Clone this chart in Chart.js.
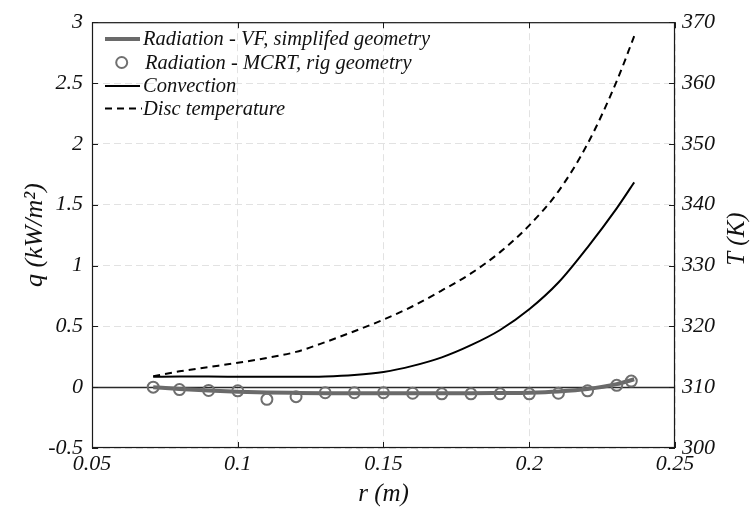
<!DOCTYPE html>
<html>
<head>
<meta charset="utf-8">
<script src="https://cdn.jsdelivr.net/npm/chart.js@4.4.1/dist/chart.umd.min.js"></script>
<style>
html,body{margin:0;padding:0;background:#fff;}
#wrap{width:750px;height:517px;}
</style>
</head>
<body>
<div id="wrap"><canvas id="c" width="750" height="517"></canvas></div>
<script>
// ---- data ----
const rLine = [0.071,0.08,0.09,0.10,0.11,0.12,0.13,0.14,0.15,0.16,0.17,0.18,0.19,0.20,0.21,0.22,0.23,0.236];
const qRadVF = [0.0,-0.015,-0.028,-0.038,-0.044,-0.047,-0.049,-0.05,-0.05,-0.05,-0.05,-0.05,-0.048,-0.045,-0.035,-0.015,0.025,0.065];
const qConv  = [0.085,0.087,0.087,0.086,0.085,0.085,0.088,0.10,0.125,0.175,0.245,0.345,0.47,0.64,0.86,1.15,1.47,1.683];
const tDisc  = [311.8,312.6,313.3,314.0,314.8,315.8,317.4,319.2,321.1,323.3,325.9,328.7,332.2,336.6,342.2,350.0,360.3,367.7];

const rMCRT = [0.071,0.08,0.09,0.10,0.11,0.12,0.13,0.14,0.15,0.16,0.17,0.18,0.19,0.20,0.21,0.22,0.23,0.235];
const qMCRT = [0.0,-0.02,-0.027,-0.03,-0.10,-0.078,-0.046,-0.046,-0.046,-0.05,-0.055,-0.055,-0.055,-0.055,-0.05,-0.03,0.015,0.05];

const xTicks  = [0.05,0.10,0.15,0.20,0.25];
const xTickLabels = ['0.05','0.1','0.15','0.2','0.25'];
const qTicks  = [-0.5,0,0.5,1,1.5,2,2.5,3];
const qTickLabels = ['-0.5','0','0.5','1','1.5','2','2.5','3'];
const tTicks  = [300,310,320,330,340,350,360,370];

const seriesNames = ['Radiation - VF, simplifed geometry','Radiation - MCRT, rig geometry','Convection','Disc temperature'];

const FONT = "'Liberation Serif', 'Times New Roman', serif";
const pts = (xs, ys) => xs.map((x, i) => ({x: x, y: ys[i]}));

const boxPlugin = {
  id: 'boxAndExtras',
  beforeDatasetsDraw(chart) {
    const ctx = chart.ctx, a = chart.chartArea, ys = chart.scales.y;
    const y0 = Math.round(ys.getPixelForValue(0)) + 0.5;
    ctx.save();
    ctx.strokeStyle = '#2a2a2a';
    ctx.lineWidth = 1.4;
    ctx.beginPath(); ctx.moveTo(a.left, y0); ctx.lineTo(a.right, y0); ctx.stroke();
    ctx.restore();
  },
  afterDraw(chart) {
    const ctx = chart.ctx, a = chart.chartArea;
    const xs = chart.scales.x, ys = chart.scales.y, y1 = chart.scales.y1;
    ctx.save();
    // box
    ctx.strokeStyle = '#1a1a1a';
    ctx.lineWidth = 1.2;
    ctx.strokeRect(a.left + 0.5, a.top + 0.5, a.right - a.left - 1, a.bottom - a.top - 1);
    // inner ticks
    ctx.lineWidth = 1;
    ctx.beginPath();
    xTicks.forEach(v => {
      const p = Math.round(xs.getPixelForValue(v)) + 0.5;
      ctx.moveTo(p, a.bottom); ctx.lineTo(p, a.bottom - 6);
      ctx.moveTo(p, a.top); ctx.lineTo(p, a.top + 6);
    });
    qTicks.forEach(v => {
      const p = Math.round(ys.getPixelForValue(v)) + 0.5;
      ctx.moveTo(a.left, p); ctx.lineTo(a.left + 6, p);
    });
    tTicks.forEach(v => {
      const p = Math.round(y1.getPixelForValue(v)) + 0.5;
      ctx.moveTo(a.right, p); ctx.lineTo(a.right - 6, p);
    });
    ctx.stroke();

    // right axis title (reads bottom to top)
    ctx.fillStyle = '#111';
    ctx.font = 'italic 25px ' + FONT;
    ctx.textAlign = 'center';
    ctx.textBaseline = 'middle';
    ctx.translate(737, (a.top + a.bottom) / 2 + 4);
    ctx.rotate(-Math.PI / 2);
    ctx.fillText('T (K)', 0, 0);
    ctx.restore();

    // legend
    ctx.save();
    const rows = [39, 62.5, 86, 108.5];
    const lx0 = 105, lx1 = 140, tx = 143;
    ctx.font = 'italic 20.5px ' + FONT;
    ctx.fillStyle = '#111';
    ctx.textBaseline = 'middle';
    ctx.textAlign = 'left';
    ctx.strokeStyle = '#6a6a6a'; ctx.lineWidth = 4;
    ctx.beginPath(); ctx.moveTo(lx0, rows[0]); ctx.lineTo(lx1, rows[0]); ctx.stroke();
    ctx.strokeStyle = '#707070'; ctx.lineWidth = 2;
    ctx.beginPath(); ctx.arc(121.7, rows[1], 5.5, 0, Math.PI * 2); ctx.stroke();
    ctx.strokeStyle = '#000'; ctx.lineWidth = 2;
    ctx.beginPath(); ctx.moveTo(lx0, rows[2]); ctx.lineTo(lx1, rows[2]); ctx.stroke();
    ctx.setLineDash([7, 5]);
    ctx.beginPath(); ctx.moveTo(lx0, rows[3]); ctx.lineTo(lx1 + 2, rows[3]); ctx.stroke();
    ctx.setLineDash([]);
    const txs = [tx, tx + 2, tx, tx];
    seriesNames.forEach((n, i) => ctx.fillText(n, txs[i], rows[i] + 1));
    ctx.restore();
  }
};

const tickFont = {family: FONT, size: 22, style: 'italic'};

new Chart(document.getElementById('c'), {
  type: 'scatter',
  data: {
    datasets: [
      {
        label: seriesNames[1], data: pts(rMCRT, qMCRT), yAxisID: 'y', order: 0,
        showLine: false, pointStyle: 'circle', pointRadius: 5.5, pointBorderWidth: 2,
        borderColor: '#6f6f6f', pointBorderColor: '#6f6f6f', backgroundColor: 'rgba(0,0,0,0)', pointBackgroundColor: 'rgba(0,0,0,0)'
      },
      {
        label: seriesNames[0], data: pts(rLine, qRadVF), yAxisID: 'y', order: 1,
        showLine: true, pointRadius: 0, borderColor: '#6a6a6a', borderWidth: 4, cubicInterpolationMode: 'monotone'
      },
      {
        label: seriesNames[2], data: pts(rLine, qConv), yAxisID: 'y', order: 2,
        showLine: true, pointRadius: 0, borderColor: '#000', borderWidth: 2, cubicInterpolationMode: 'monotone'
      },
      {
        label: seriesNames[3], data: pts(rLine, tDisc), yAxisID: 'y1', order: 3,
        showLine: true, pointRadius: 0, borderColor: '#000', borderWidth: 2, borderDash: [7, 5], cubicInterpolationMode: 'monotone'
      }
    ]
  },
  options: {
    responsive: false,
    animation: false,
    devicePixelRatio: 1,
    layout: {padding: {top: 16, left: 0, right: 0, bottom: 0}},
    plugins: {legend: {display: false}, tooltip: {enabled: false}},
    scales: {
      x: {
        type: 'linear', position: 'bottom', min: 0.05, max: 0.25,
        afterBuildTicks: s => { s.ticks = xTicks.map(v => ({value: v})); },
        afterFit: s => { s.height = 69; },
        grid: {color: '#e2e2e2', lineWidth: 1, drawTicks: false},
        border: {display: false, dash: [7, 4]},
        ticks: {font: tickFont, color: '#111', padding: 3, maxRotation: 0,
                callback: (v) => xTickLabels[xTicks.findIndex(t => Math.abs(t - v) < 1e-9)]},
        title: {display: true, text: 'r (m)', color: '#111', font: {family: FONT, size: 25, style: 'italic'}, padding: {top: 0, bottom: 8}}
      },
      y: {
        type: 'linear', position: 'left', min: -0.5, max: 3,
        afterBuildTicks: s => { s.ticks = qTicks.map(v => ({value: v})); },
        afterFit: s => { s.width = 92; },
        grid: {color: '#e2e2e2', lineWidth: 1, drawTicks: false},
        border: {display: false, dash: [7, 4]},
        ticks: {font: tickFont, color: '#111', padding: 9,
                callback: (v) => qTickLabels[qTicks.findIndex(t => Math.abs(t - v) < 1e-9)]},
        title: {display: true, text: 'q (kW/m²)', color: '#111', font: {family: FONT, size: 26, style: 'italic'}, padding: {top: 20, bottom: 0}}
      },
      y1: {
        type: 'linear', position: 'right', min: 300, max: 370,
        afterBuildTicks: s => { s.ticks = tTicks.map(v => ({value: v})); },
        afterFit: s => { s.width = 75; },
        grid: {display: false, drawTicks: false},
        border: {display: false},
        ticks: {font: tickFont, color: '#111', padding: 7}
      }
    }
  },
  plugins: [boxPlugin]
});
</script>
</body>
</html>
